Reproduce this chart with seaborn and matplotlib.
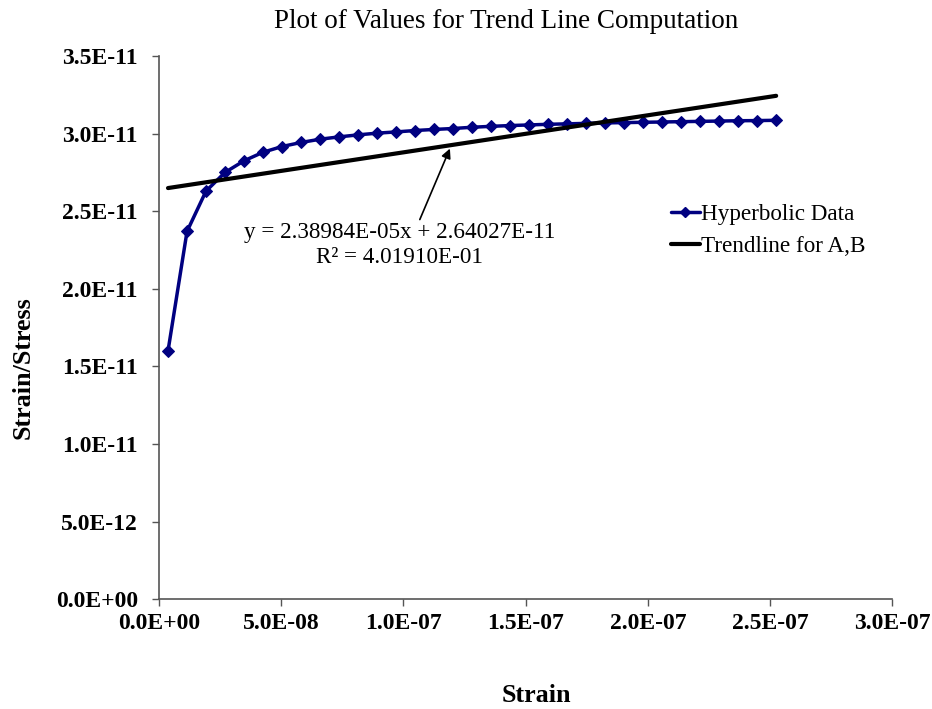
import numpy as np
import pandas as pd
import matplotlib
matplotlib.use("Agg")
import matplotlib.pyplot as plt
import seaborn as sns
from matplotlib.lines import Line2D

sns.set_style("white")
plt.rcParams['font.family'] = ['Liberation Serif', 'DejaVu Serif']
plt.rcParams['text.color'] = 'black'
plt.rcParams['xtick.color'] = 'black'
plt.rcParams['ytick.color'] = 'black'

# Data
strain = [3.8e-9 + i * 7.77e-9 for i in range(33)]
ratio = [16.0, 23.7, 26.3, 27.5, 28.25, 28.8, 29.17, 29.43, 29.64, 29.79, 29.92,
         30.03, 30.11, 30.2, 30.27, 30.33, 30.41, 30.47, 30.52, 30.56, 30.6,
         30.63, 30.66, 30.69, 30.71, 30.73, 30.75, 30.77, 30.79, 30.81, 30.83,
         30.84, 30.86]
ratio = [v * 1e-12 for v in ratio]
slope = 2.38984e-05
intercept = 2.64027e-11
x_ticks = [0, 5e-8, 1e-7, 1.5e-7, 2e-7, 2.5e-7, 3e-7]
x_tick_labels = ["0.0E+00", "5.0E-08", "1.0E-07", "1.5E-07", "2.0E-07", "2.5E-07", "3.0E-07"]
y_ticks = [0, 5e-12, 1e-11, 1.5e-11, 2e-11, 2.5e-11, 3e-11, 3.5e-11]
y_tick_labels = ["0.0E+00", "5.0E-12", "1.0E-11", "1.5E-11", "2.0E-11", "2.5E-11", "3.0E-11", "3.5E-11"]

df = pd.DataFrame({"strain": strain, "ratio": ratio})
trend_x = np.array([strain[0], strain[-1]])
trend_df = pd.DataFrame({"strain": trend_x, "ratio": slope * trend_x + intercept})

fig = plt.figure(figsize=(9.32, 7.09), dpi=100)
ax = fig.add_axes([0.1703, 0.1547, 0.9576 - 0.1703, 0.921 - 0.1547])

navy = "#000080"
sns.lineplot(data=df, x="strain", y="ratio", ax=ax, color=navy, lw=2.5,
             marker="D", markersize=6.5, markeredgecolor=navy, markerfacecolor=navy)
sns.lineplot(data=trend_df, x="strain", y="ratio", ax=ax, color="black", lw=3)

ax.set_xlim(0, 3e-7)
ax.set_ylim(0, 3.5e-11)
ax.set_xticks(x_ticks)
ax.set_xticklabels(x_tick_labels, fontsize=17, fontweight="bold")
ax.set_yticks(y_ticks)
ax.set_yticklabels(y_tick_labels, fontsize=17, fontweight="bold")
ax.tick_params(axis="both", direction="out", length=5, width=1, color="#555555",
               left=True, bottom=True)
ax.tick_params(axis="y", pad=10)
ax.tick_params(axis="x", pad=5)
for s in ["top", "right"]:
    ax.spines[s].set_visible(False)
for s in ["left", "bottom"]:
    ax.spines[s].set_color("#555555")
    ax.spines[s].set_linewidth(1.2)
ax.set_xlabel("")
ax.set_ylabel("")

fig.text(536 / 932, 1 - 695 / 709, "Strain", ha="center", va="center",
         fontsize=18.8, fontweight="bold")
fig.text(23 / 932, 1 - 368 / 709, "Strain/Stress", ha="center", va="center",
         rotation=90, fontsize=18.8, fontweight="bold")
fig.text(506 / 932, 1 - 22 / 709, "Plot of Values for Trend Line Computation",
         ha="center", va="center", fontsize=19.5)

ax.annotate("", xy=(1.195e-7, 2.92e-11), xytext=(1.063e-7, 2.43e-11),
            arrowprops=dict(arrowstyle="-|>", color="black", lw=1.2,
                            mutation_scale=14))
ax.text(0.985e-7, 2.428e-11,
        "y = 2.38984E-05x + 2.64027E-11\nR² = 4.01910E-01",
        ha="center", va="top", fontsize=16.7, linespacing=1.2)

handles = [Line2D([], [], color=navy, lw=2.5, marker="D", markersize=5.5),
           Line2D([], [], color="black", lw=3)]
ax.legend(handles, ["Hyperbolic Data", "Trendline for A,B"], frameon=False,
          loc="upper left", bbox_to_anchor=(0.6855, 0.745), fontsize=16.7,
          handlelength=1.25, handletextpad=0.05, labelspacing=0.48, borderaxespad=0)

fig.savefig("out.png", dpi=100)
